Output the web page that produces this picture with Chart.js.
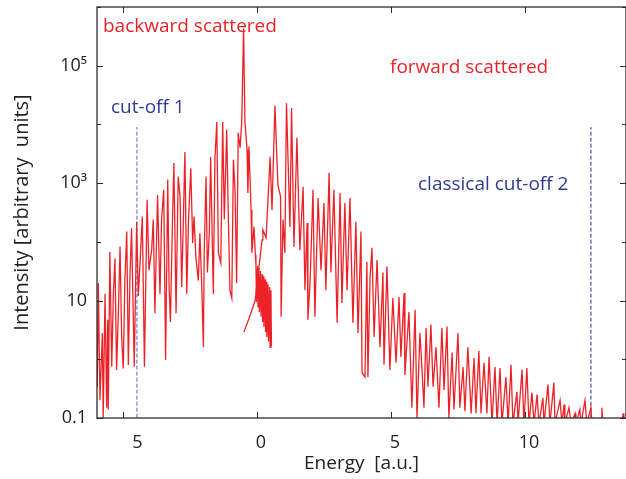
<!DOCTYPE html>
<html>
<head>
<meta charset="utf-8">
<script src="https://cdn.jsdelivr.net/npm/chart.js@4.4.0/dist/chart.umd.min.js"></script>
<style>
  html, body { margin: 0; padding: 0; background: #fff; }
  #wrap { width: 626px; height: 479px; }
</style>
</head>
<body>
<div id="wrap"><canvas id="chart" width="626" height="479"></canvas></div>
<script>
// backward scattered part
const energyBack = [
  -6.0, -5.96, -5.92, -5.86, -5.77, -5.74, -5.67, -5.61, -5.57, -5.55,
  -5.49, -5.42, -5.36, -5.30, -5.24, -5.17, -5.11, -5.05, -4.99, -4.93,
  -4.86, -4.80, -4.74, -4.68, -4.58, -4.49, -4.43, -4.37, -4.28, -4.20,
  -4.10, -4.03, -3.93, -3.87, -3.81, -3.71, -3.62, -3.56, -3.48, -3.41,
  -3.33, -3.28, -3.23, -3.15, -3.10, -3.02, -2.94, -2.87, -2.81, -2.75,
  -2.69, -2.62, -2.56, -2.47, -2.40, -2.35, -2.28, -2.19, -2.13, -2.06,
  -2.00, -1.97, -1.90, -1.85, -1.78, -1.73, -1.63, -1.57, -1.50, -1.44,
  -1.35, -1.28, -1.22, -1.13, -1.07, -1.01, -0.94, -0.88, -0.82, -0.76,
  -0.70, -0.63, -0.57, -0.50, -0.45, -0.37, -0.34, -0.30, -0.22, -0.19,
  -0.11, -0.06, -0.04, -0.02, 0.02, 0.04, 0.07, 0.09, 0.13, 0.15,
  0.19, 0.21, 0.24, 0.26, 0.30, 0.32, 0.35, 0.37, 0.41, 0.43,
  0.47, 0.49, 0.52, 0.54
];
const intensityBack = [
  1.6, 0.34, 20, 0.20, 2.8, 0.10, 13, 0.15, 4.7, 0.14,
  68, 0.75, 13, 52, 0.66, 7.0, 83, 2.4, 0.70, 22,
  150, 0.80, 26, 170, 0.75, 220, 12, 38, 270, 0.75,
  520, 33, 73, 240, 6.1, 630, 13, 240, 770, 0.97,
  1150, 17, 4.3, 270, 2200, 6.1, 1300, 590, 17, 210,
  3400, 13, 210, 1800, 96, 270, 55, 22, 140, 17,
  1.6, 65, 1300, 30, 140, 2800, 13, 2500, 11000, 65,
  44, 11000, 240, 8100, 270, 15, 11, 2500, 770, 20,
  7200, 4000, 11000, 430000, 11000, 3700, 680, 4200, 350, 65,
  180, 60, 44, 9.5, 39, 7.8, 36, 6.4, 32, 5.3,
  28, 4.3, 26, 3.6, 23, 2.9, 21, 2.4, 19, 2.0,
  17, 1.6, 15, 1.7
];

// forward scattered part
const energyFwd = [
  -0.49, -0.26, -0.07, 0.19, 0.22, 0.34, 0.49, 0.56, 0.67, 0.78,
  0.88, 0.90, 0.97, 1.04, 1.10, 1.23, 1.29, 1.38, 1.49, 1.60,
  1.72, 1.79, 1.87, 1.90, 1.98, 2.09, 2.16, 2.28, 2.39, 2.50,
  2.57, 2.69, 2.76, 2.80, 2.87, 2.99, 3.10, 3.17, 3.28, 3.36,
  3.47, 3.58, 3.69, 3.77, 3.88, 3.92, 4.03, 4.10, 4.14, 4.22,
  4.29, 4.37, 4.48, 4.59, 4.70, 4.74, 4.85, 4.96, 5.07, 5.19,
  5.30, 5.37, 5.49, 5.52, 5.67, 5.78, 5.90, 5.97, 6.08, 6.16,
  6.23, 6.31, 6.38, 6.49, 6.57, 6.68, 6.79, 6.90, 6.98, 7.09,
  7.16, 7.28, 7.35, 7.50, 7.57, 7.69, 7.76, 7.87, 7.99, 8.10,
  8.17, 8.28, 8.36, 8.47, 8.58, 8.66, 8.77, 8.88, 8.96, 9.07,
  9.14, 9.29, 9.37, 9.48, 9.55, 9.70, 9.74, 9.89, 9.96, 10.07,
  10.15, 10.26, 10.34, 10.45, 10.52, 10.67, 10.71, 10.86, 10.93, 11.08,
  11.12, 11.31, 11.38, 11.46, 11.49, 11.64, 11.72, 11.87, 11.90, 12.05,
  12.09, 12.24, 12.31, 12.46, 12.50, 12.84, 12.87, 12.91, 13.62, 13.66,
  13.69, 13.9
];
const intensityFwd = [
  2.9, 5.5, 10, 108, 160, 117, 2800, 350, 21000, 930,
  590, 5.3, 240, 65, 23000, 180, 19000, 82, 5900, 73,
  870, 15, 210, 4.7, 20, 770, 5.3, 560, 33, 460,
  15, 1500, 30, 108, 770, 4.2, 680, 9.1, 460, 15,
  560, 4.2, 220, 2.8, 150, 0.59, 0.50, 46, 0.50, 25,
  79, 2.4, 49, 1.6, 30, 0.81, 38, 0.66, 11, 0.87,
  11.5, 1.1, 13.5, 0.54, 6.4, 0.15, 7.0, 0.10, 2.8, 0.66,
  0.15, 3.4, 0.34, 3.9, 0.34, 1.6, 0.15, 3.4, 0.30, 3.6,
  0.10, 1.3, 0.14, 2.8, 0.15, 0.74, 0.13, 1.6, 0.12, 1.05,
  0.12, 1.4, 0.12, 0.87, 0.12, 1.1, 0.08, 0.74, 0.08, 0.71,
  0.08, 0.50, 0.08, 0.81, 0.08, 0.28, 0.08, 0.66, 0.08, 0.71,
  0.08, 0.27, 0.08, 0.25, 0.08, 0.22, 0.08, 0.37, 0.08, 0.40,
  0.08, 0.20, 0.08, 0.17, 0.08, 0.15, 0.08, 0.12, 0.08, 0.14,
  0.08, 0.20, 0.08, 0.15, 0.08, 0.08, 0.15, 0.08, 0.08, 0.12,
  0.08, 0.08
];

const xTicks = [-5, 0, 5, 10];
const xTickLabels = ['\u2007\u20075', '0', '5', '10'];
const yTicks = [0.1, 1, 10, 100, 1e3, 1e4, 1e5, 1e6];
const yTickLabels = ['0.1', '', '10', '', '10³', '', '10⁵', ''];

const cutoff1 = -4.48;
const cutoff2 = 12.46;
const cutoffTop = 9000;

const FONT = "'Open Sans', sans-serif";
const RED = '#ec2228';
const BLUE = '#2f3a92';

const notes = [
  { text: 'backward scattered', x: 103, y: 32, color: RED },
  { text: 'forward scattered', x: 390, y: 73, color: RED },
  { text: 'cut-off 1', x: 111, y: 113, color: BLUE },
  { text: 'classical cut-off 2', x: 418, y: 190, color: BLUE }
];

function pts(xs, ys) {
  return xs.map((x, i) => ({ x: x, y: ys[i] }));
}

// frame with inward ticks on all four sides, plus the text notes
const framePlugin = {
  id: 'frame',
  afterDraw(chart) {
    const ctx = chart.ctx;
    const a = chart.chartArea;
    const sx = chart.scales.x, sy = chart.scales.y;
    ctx.save();
    ctx.strokeStyle = '#2b2b2b';
    ctx.lineWidth = 1.3;
    ctx.strokeRect(a.left, a.top, a.right - a.left, a.bottom - a.top);
    ctx.lineWidth = 1;
    ctx.beginPath();
    sx.ticks.forEach(t => {
      const px = Math.round(sx.getPixelForValue(t.value)) + 0.5;
      ctx.moveTo(px, a.bottom); ctx.lineTo(px, a.bottom - 6);
      ctx.moveTo(px, a.top); ctx.lineTo(px, a.top + 6);
    });
    sy.ticks.forEach((t, i) => {
      const py = Math.round(sy.getPixelForValue(t.value)) + 0.5;
      const len = yTickLabels[i] ? 6 : 4;
      ctx.moveTo(a.left, py); ctx.lineTo(a.left + len, py);
      ctx.moveTo(a.right, py); ctx.lineTo(a.right - len, py);
    });
    ctx.stroke();

    ctx.font = '19px ' + FONT;
    ctx.textBaseline = 'alphabetic';
    ctx.textAlign = 'left';
    notes.forEach(n => {
      ctx.fillStyle = n.color;
      ctx.fillText(n.text, n.x, n.y);
    });
    ctx.restore();
  }
};

const lineStyle = { borderColor: RED, borderWidth: 1.3, pointRadius: 0, tension: 0, fill: false };

new Chart(document.getElementById('chart'), {
  type: 'line',
  data: {
    datasets: [
      Object.assign({ data: pts(energyBack, intensityBack) }, lineStyle),
      Object.assign({ data: pts(energyFwd, intensityFwd) }, lineStyle),
      { data: [{ x: cutoff1, y: 0.05 }, { x: cutoff1, y: cutoffTop }], borderColor: '#5562b8', borderWidth: 1, borderDash: [4, 2], pointRadius: 0 },
      { data: [{ x: cutoff2, y: 0.05 }, { x: cutoff2, y: cutoffTop }], borderColor: '#2a2d6c', borderWidth: 1, borderDash: [4, 2], pointRadius: 0 }
    ]
  },
  options: {
    responsive: false,
    animation: false,
    devicePixelRatio: 1,
    layout: { padding: { top: 7, right: 0, left: 0, bottom: 0 } },
    plugins: { legend: { display: false }, tooltip: { enabled: false } },
    scales: {
      x: {
        type: 'linear',
        min: -5.97,
        max: 13.77,
        afterBuildTicks: s => { s.ticks = xTicks.map(v => ({ value: v })); },
        afterFit: s => { s.height = 61; s.paddingLeft = 0; s.paddingRight = 0; },
        grid: { display: false, drawTicks: false },
        border: { display: false },
        ticks: {
          padding: 14,
          labelOffset: 4,
          maxRotation: 0,
          autoSkip: false,
          color: '#222',
          font: { family: FONT, size: 18 },
          callback: (v, i) => xTickLabels[i]
        },
        title: {
          display: true,
          text: 'Energy  [a.u.]',
          color: '#222',
          font: { family: FONT, size: 19 },
          padding: { top: 0, bottom: 4 }
        }
      },
      y: {
        type: 'logarithmic',
        min: 0.1,
        max: 1e6,
        afterBuildTicks: s => { s.ticks = yTicks.map(v => ({ value: v })); },
        afterFit: s => { s.width = 97; s.paddingTop = 0; s.paddingBottom = 0; },
        grid: { display: false, drawTicks: false },
        border: { display: false },
        ticks: {
          padding: 10,
          autoSkip: false,
          color: '#222',
          font: { family: FONT, size: 18 },
          callback: (v, i) => yTickLabels[i]
        },
        title: {
          display: true,
          text: 'Intensity [arbitrary  units]',
          color: '#222',
          font: { family: FONT, size: 20 },
          padding: { top: 10, bottom: 0 }
        }
      }
    }
  },
  plugins: [framePlugin]
});
</script>
</body>
</html>
